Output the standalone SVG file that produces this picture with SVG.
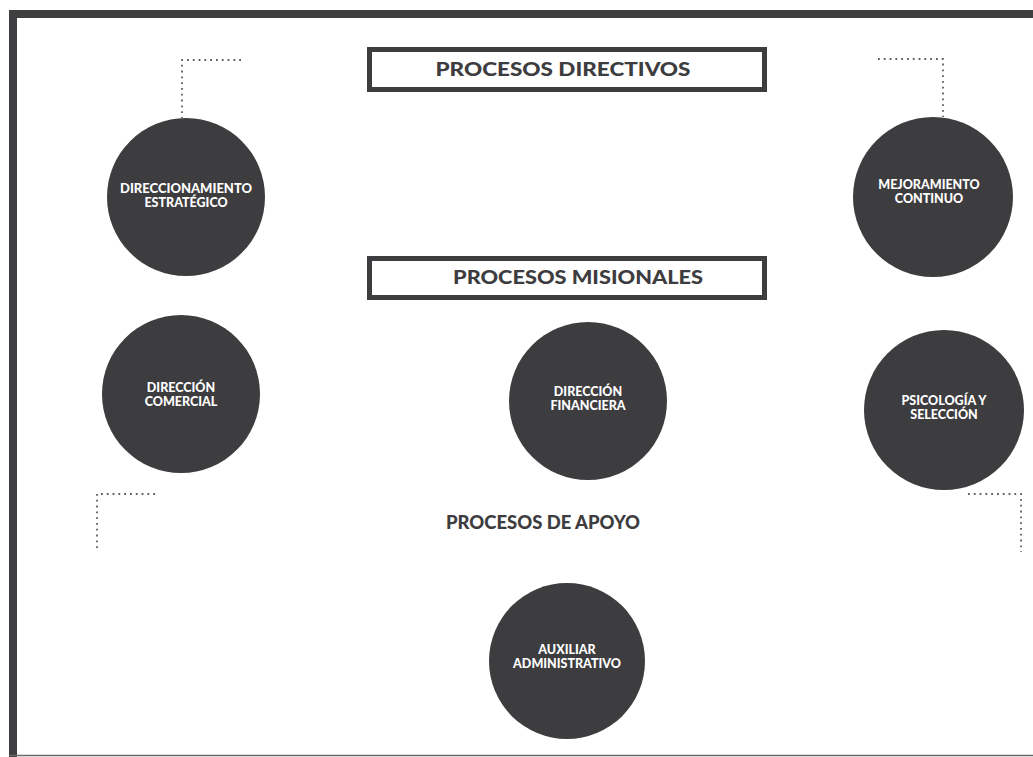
<svg xmlns="http://www.w3.org/2000/svg" width="1033" height="757" viewBox="0 0 1033 757">
<style>
.node{fill:#3d3c3e}
.lbl{font-family:Lato,"Open Sans","Liberation Sans",sans-serif;font-weight:900;font-size:12.5px;fill:#ffffff;text-anchor:middle}
.title{font-family:Lato,"Open Sans","Liberation Sans",sans-serif;font-weight:900;font-size:19px;fill:#3d3c3e;text-anchor:middle}
.box{fill:#ffffff;stroke:#3d3c3e;stroke-width:5}
.dot{fill:none;stroke:#5e5e5e;stroke-width:1.8;stroke-dasharray:1.8 4}
</style>
<rect width="1033" height="757" fill="#ffffff"/>
<g id="frame">
<rect x="9" y="10" width="1024" height="8" fill="#3f3f41"/>
<rect x="9" y="10" width="8" height="747" fill="#3f3f41"/>
<line x1="9" y1="755.5" x2="1033" y2="755.5" stroke="#6a6a6a" stroke-width="1.5"/>
</g>
<g id="connectors">
<path class="dot" d="M241 60 H182 V118"/>
<path class="dot" d="M878 59 H943 V117"/>
<path class="dot" d="M155 494 H97 V550"/>
<path class="dot" d="M968 494 H1021 V552"/>
</g>
<g id="title-directivos">
<rect class="box" x="369.5" y="49.5" width="395" height="40"/>
<text class="title" x="563" y="76" textLength="255" lengthAdjust="spacingAndGlyphs">PROCESOS DIRECTIVOS</text>
</g>
<g id="title-misionales">
<rect class="box" x="369.5" y="258.5" width="395" height="39"/>
<text class="title" x="578" y="284" textLength="250" lengthAdjust="spacingAndGlyphs">PROCESOS MISIONALES</text>
</g>
<g id="title-apoyo">
<text class="title" x="543" y="529" textLength="194" lengthAdjust="spacingAndGlyphs">PROCESOS DE APOYO</text>
</g>
<g id="direccionamiento">
<circle class="node" cx="186" cy="197" r="79"/>
<text class="lbl" x="186" y="192.5" textLength="132" lengthAdjust="spacingAndGlyphs">DIRECCIONAMIENTO</text>
<text class="lbl" x="186" y="206.5">ESTRATÉGICO</text>
</g>
<g id="mejoramiento">
<circle class="node" cx="933" cy="197" r="80"/>
<text class="lbl" x="929" y="188.5">MEJORAMIENTO</text>
<text class="lbl" x="929" y="202.5">CONTINUO</text>
</g>
<g id="comercial">
<circle class="node" cx="181" cy="394" r="79"/>
<text class="lbl" x="181" y="392">DIRECCIÓN</text>
<text class="lbl" x="181" y="406">COMERCIAL</text>
</g>
<g id="financiera">
<circle class="node" cx="588" cy="401" r="79"/>
<text class="lbl" x="588" y="396">DIRECCIÓN</text>
<text class="lbl" x="588" y="410">FINANCIERA</text>
</g>
<g id="psicologia">
<circle class="node" cx="944" cy="410" r="80"/>
<text class="lbl" x="944" y="404.5">PSICOLOGÍA Y</text>
<text class="lbl" x="944" y="418.5">SELECCIÓN</text>
</g>
<g id="auxiliar">
<circle class="node" cx="567" cy="661" r="78"/>
<text class="lbl" x="567" y="653.5">AUXILIAR</text>
<text class="lbl" x="567" y="667.5">ADMINISTRATIVO</text>
</g>
</svg>
